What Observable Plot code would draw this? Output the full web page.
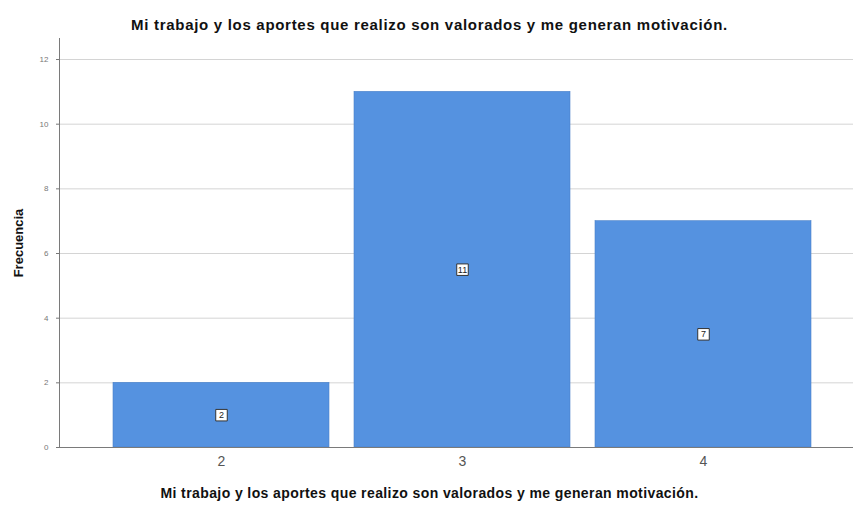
<!DOCTYPE html>
<html><head><meta charset="utf-8">
<script src="https://cdn.jsdelivr.net/npm/d3@7"></script>
<script src="https://cdn.jsdelivr.net/npm/@observablehq/plot@0.6"></script>
<style>
body{margin:0;background:#fff;font-family:Arial,"Liberation Sans",sans-serif;}
#wrap{width:853px;height:505px;position:relative;}
.t{width:853px;text-align:center;font-weight:bold;color:#111;white-space:nowrap;padding-left:6px;box-sizing:border-box;}
#title{height:38px;line-height:50px;font-size:15px;letter-spacing:0.7px;}
#xlabel{height:27px;line-height:30px;font-size:14px;letter-spacing:0.4px;}
svg{display:block;}
</style></head>
<body><div id="wrap">
<div id="title" class="t">Mi trabajo y los aportes que realizo son valorados y me generan motivación.</div>
<div id="chart"></div>
<div id="xlabel" class="t">Mi trabajo y los aportes que realizo son valorados y me generan motivación.</div>
</div>
<script>
const categories = ["2", "3", "4"];
const counts = [2, 11, 7];
const yTicks = [0, 2, 4, 6, 8, 10, 12];
const yLabel = "Frecuencia";

const data = categories.map((c, i) => ({cat: c, n: counts[i]}));

const chart = Plot.plot({
  width: 853,
  height: 440,
  marginLeft: 59,
  marginRight: 0,
  marginTop: 0,
  marginBottom: 31,
  style: {fontFamily: "Arial, 'Liberation Sans', sans-serif", background: "#fff"},
  x: {domain: categories, range: [88, 835], paddingInner: 0.104, paddingOuter: 0.1, label: null},
  y: {domain: [0, 12.65], label: null},
  marks: [
    Plot.ruleY(yTicks.filter(d => d > 0), {stroke: "#d4d4d4", strokeWidth: 1}),
    Plot.barY(data, {x: "cat", y: "n", fill: "#5592e0", stroke: "#4a80c8", strokeWidth: 0.6}),
    Plot.ruleY([0], {stroke: "#7a7a7a", strokeWidth: 1}),
    Plot.frame({anchor: "left", stroke: "#7a7a7a"}),
    Plot.axisY({ticks: yTicks, tickSize: 3, tickPadding: 8, fontSize: 8, color: "#777", label: null, tickFormat: d => d}),
    Plot.axisX({tickSize: 0, tickPadding: 9, fontSize: 14, color: "#555", label: null}),
    Plot.dot(data, {x: "cat", y: d => d.n / 2, symbol: "square", r: 6.5, fill: "#fff", stroke: "#333", strokeWidth: 1}),
    Plot.text(data, {x: "cat", y: d => d.n / 2, text: d => String(d.n), fontSize: 9, fill: "#222"}),
    Plot.text([yLabel], {frameAnchor: "left", textAnchor: "middle", rotate: -90, dx: -41, fontSize: 13, fontWeight: "bold", fill: "#111", letterSpacing: "0.5px"})
  ]
});
document.getElementById("chart").appendChild(chart);
</script>
</body></html>
